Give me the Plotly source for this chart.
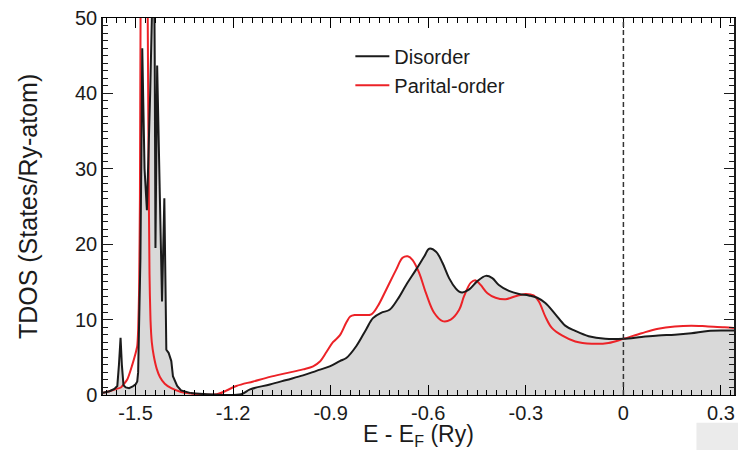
import plotly.graph_objects as go

# ---- data ----
energy_disorder = [
    -1.600, -1.580, -1.565, -1.556, -1.551, -1.546, -1.542, -1.537, -1.530, -1.520,
    -1.510, -1.500, -1.4947, -1.492, -1.4897, -1.485, -1.482, -1.4793, -1.4723, -1.465,
    -1.455, -1.446, -1.4435, -1.441, -1.4387, -1.4335, -1.4185, -1.4114, -1.4053, -1.3983,
    -1.390, -1.385, -1.372, -1.360, -1.330, -1.280, -1.175, -1.148, -1.087, -1.036,
    -0.985, -0.944, -0.903, -0.872, -0.852, -0.821, -0.791, -0.770, -0.745, -0.719,
    -0.694, -0.668, -0.638, -0.612, -0.597, -0.576, -0.556, -0.536, -0.515, -0.505,
    -0.495, -0.474, -0.449, -0.423, -0.403, -0.383, -0.352, -0.321, -0.291, -0.265,
    -0.240, -0.209, -0.179, -0.148, -0.107, -0.056, 0.000, 0.056, 0.107, 0.158,
    0.209, 0.260, 0.311, 0.340,
]
tdos_disorder = [
    0.3, 0.5, 0.8, 1.2, 4.0, 7.6, 4.0, 1.3, 1.0, 0.9,
    1.1, 1.4, 1.8, 3.0, 8.0, 18.0, 32.0, 46.0, 30.0, 24.5,
    40.0, 56.0, 62.0, 45.0, 19.5, 43.7, 12.4, 26.1, 6.0, 5.6,
    4.5, 2.5, 1.2, 0.6, 0.25, 0.1, 0.1, 0.74, 1.4, 2.0,
    2.6, 3.2, 3.8, 4.5, 4.9, 6.5, 8.7, 10.2, 10.9, 11.3,
    12.7, 14.6, 16.6, 18.4, 19.4, 19.0, 17.5, 15.5, 14.1, 13.7,
    13.6, 14.0, 15.1, 15.8, 15.5, 14.6, 13.8, 13.4, 13.2, 12.9,
    12.2, 10.7, 9.2, 8.5, 7.8, 7.45, 7.45, 7.7, 7.9, 8.0,
    8.2, 8.5, 8.55, 8.55,
]

energy_partial = [
    -1.600, -1.580, -1.560, -1.545, -1.525, -1.510, -1.500, -1.4947, -1.492, -1.489,
    -1.4865, -1.4845, -1.480, -1.473, -1.466, -1.4625, -1.460, -1.457, -1.454, -1.450,
    -1.444, -1.435, -1.425, -1.410, -1.390, -1.360, -1.330, -1.250, -1.190, -1.138,
    -1.087, -1.036, -0.985, -0.954, -0.934, -0.913, -0.893, -0.872, -0.852, -0.840,
    -0.826, -0.801, -0.775, -0.755, -0.729, -0.699, -0.679, -0.663, -0.648, -0.628,
    -0.607, -0.582, -0.556, -0.531, -0.505, -0.490, -0.469, -0.454, -0.439, -0.418,
    -0.393, -0.362, -0.332, -0.301, -0.276, -0.260, -0.240, -0.220, -0.189, -0.148,
    -0.097, -0.046, 0.000, 0.056, 0.107, 0.158, 0.209, 0.260, 0.311, 0.340,
]
tdos_partial = [
    0.3, 0.5, 0.8, 1.0, 2.1, 4.0, 5.5, 6.5, 8.5, 14.0,
    26.0, 50.0, 68.0, 78.0, 68.0, 50.0, 32.0, 16.0, 10.0, 7.0,
    5.2, 3.5, 2.4, 1.5, 0.9, 0.4, 0.2, 0.1, 1.2, 1.8,
    2.4, 2.9, 3.4, 3.8, 4.4, 5.7, 7.0, 7.9, 9.6, 10.4,
    10.6, 10.6, 10.7, 11.8, 14.0, 16.6, 18.2, 18.4, 17.9, 16.2,
    13.5, 10.9, 9.8, 10.0, 11.3, 13.1, 14.9, 15.2, 14.6, 13.5,
    12.9, 12.7, 13.1, 13.4, 13.2, 12.4, 10.4, 8.9, 7.9, 7.1,
    6.8, 6.9, 7.45, 8.2, 8.8, 9.1, 9.2, 9.1, 9.0, 8.9,
]

x_tick_text = ["-1.5", "-1.2", "-0.9", "-0.6", "-0.3", "0", "0.3"]
x_tick_step = 0.3
fermi_energy = 0.0
split_energy = -1.33   # sharp semicore peaks (straight segments) | smooth valence band

FONT = "Liberation Sans, Arial, Helvetica, sans-serif"
BLACK = "#1b1b1b"
RED = "#ec2227"


def split(xs, ys, at):
    i = xs.index(at)
    return (xs[: i + 1], ys[: i + 1]), (xs[i:], ys[i:])


(dis_pk, dis_sm) = split(energy_disorder, tdos_disorder, split_energy)
(par_pk, par_sm) = split(energy_partial, tdos_partial, split_energy)

fig = go.Figure()
for (xs, ys), shape in ((dis_pk, "linear"), (dis_sm, "spline")):
    fig.add_trace(go.Scatter(x=xs, y=ys, mode="lines",
                             line=dict(color="rgba(0,0,0,0)", width=1, shape=shape, smoothing=1),
                             fill="tozeroy", fillcolor="#d9d9d9", showlegend=False))
fig.add_trace(go.Scatter(x=par_pk[0], y=par_pk[1], mode="lines", showlegend=False,
                         line=dict(color=RED, width=2, shape="spline", smoothing=0.6)))
fig.add_trace(go.Scatter(x=par_sm[0], y=par_sm[1], mode="lines", name="Parital-order",
                         legendrank=2, line=dict(color=RED, width=2, shape="spline", smoothing=1)))
fig.add_trace(go.Scatter(x=dis_pk[0], y=dis_pk[1], mode="lines", showlegend=False,
                         line=dict(color=BLACK, width=2)))
fig.add_trace(go.Scatter(x=dis_sm[0], y=dis_sm[1], mode="lines", name="Disorder",
                         legendrank=1, line=dict(color=BLACK, width=2, shape="spline", smoothing=1)))

fig.add_shape(type="line", xref="x", yref="y",
              x0=fermi_energy, x1=fermi_energy, y0=0, y1=50,
              line=dict(color="#333333", width=1.5, dash="5px,3px"))

fig.add_shape(type="rect", xref="paper", yref="paper",
              x0=0.9405, x1=1.01, y0=-0.16, y1=-0.0733,
              fillcolor="#ebebeb", line=dict(width=0), layer="above")

x_alias = {t.replace("-", "\u2212"): t for t in x_tick_text if t.startswith("-")}

fig.update_xaxes(
    range=[-1.6, 0.34], showline=True, linecolor="black", mirror="allticks",
    ticks="inside", ticklen=10, tickwidth=1.3, tickcolor="black",
    showgrid=False, zeroline=False,
    tick0=0, dtick=x_tick_step, labelalias=x_alias,
    tickfont=dict(family=FONT, size=20, color=BLACK),
    minor=dict(ticks="inside", ticklen=5, tickcolor="black", dtick=0.03, tick0=0),
    title=dict(text="E - E<sub>F</sub> (Ry)", font=dict(family=FONT, size=23, color=BLACK), standoff=8),
)
fig.update_yaxes(
    range=[0, 50], showline=True, linecolor="#1b1b1b", linewidth=1.5, mirror="allticks",
    ticks="inside", ticklen=10, tickwidth=1.3, tickcolor="#1b1b1b",
    tickfont=dict(family=FONT, size=20, color="#1b1b1b"),
    minor=dict(ticks="inside", ticklen=5, tickwidth=1, tickcolor="#1b1b1b", tick0=0, dtick=1),
)
fig.add_annotation(text="TDOS (States/Ry-atom)", textangle=-90, xref="paper", yref="paper",
                   x=-0.1195, y=0.5, xanchor="center", yanchor="middle", showarrow=False,
                   font=dict(family=FONT, size=25, color=BLACK))

fig.update_layout(
    width=738, height=450,
    margin=dict(l=103, r=2, t=18, b=54),
    plot_bgcolor="white",
    font=dict(family=FONT, color=BLACK),
    showlegend=True,
    legend=dict(x=0.392, y=0.95, xanchor="left", yanchor="top", bgcolor="rgba(0,0,0,0)",
                borderwidth=0, font=dict(family=FONT, size=20, color=BLACK), itemwidth=34),
)

fig.write_html("out.html")
